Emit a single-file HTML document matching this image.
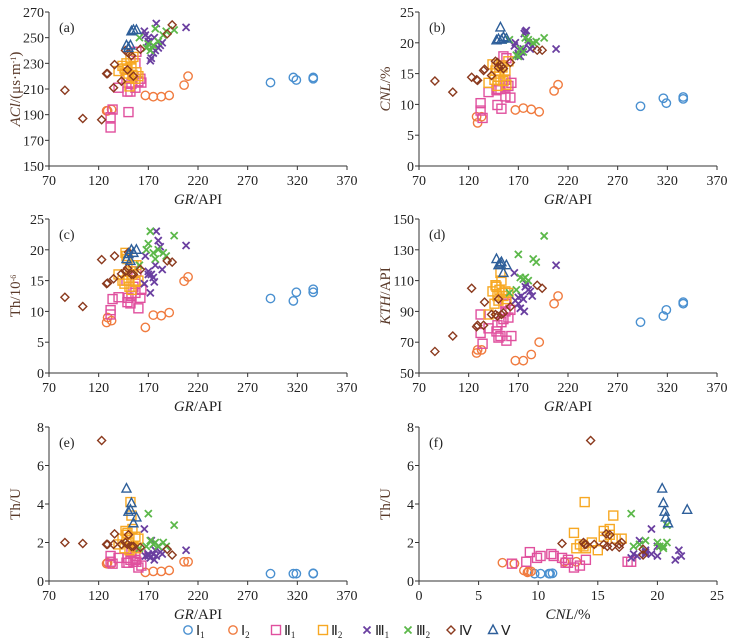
<!DOCTYPE html>
<html><head><meta charset="utf-8">
<style>
html,body{margin:0;padding:0;background:#fff;}
svg{display:block;font-family:"Liberation Serif",serif;}
</style></head>
<body>
<svg id="chart" width="731" height="641" viewBox="0 0 731 641"></svg>
<script>
// ---- data (per group, aligned samples) ----
const GR_I1=[293,316,319,336,336];
const AC_I1=[215,219,217,218,219];
const CNL_I1=[9.7,11,10.2,11.2,10.9];
const TH_I1=[12.1,11.7,13.1,13.6,13.1];
const KTH_I1=[83,87,91,96,95];
const THU_I1=[0.38,0.38,0.38,0.4,0.38];

const GR_I2=[128,129,133,167,175,183,191,206,210];
const AC_I2=[193,193,194,205,204,204,205,213,220];
const CNL_I2=[8,7,8,9.1,9.4,9.2,8.8,12.2,13.2];
const TH_I2=[8.2,9,8.5,7.4,9.4,9.3,9.8,14.9,15.6];
const KTH_I2=[63,65,65,58,58,62,70,95,100];
const THU_I2=[0.9,0.95,0.9,0.45,0.5,0.5,0.55,1,1];

const GR_II1=[132,132,134,140,148,149,150,152,153,155,157,158,160,162,163,157];
const AC_II1=[180,188,194,211,218,208,192,208,214,220,211,239,216,218,215,230];
const CNL_II1=[10.2,9,7.8,12,12.3,9.9,12.5,12.5,9.3,17.8,11.3,17.5,13,11.1,13.5,14];
const TH_II1=[9.5,10.2,12,12.3,15,11.5,12.2,11.3,12.5,14,13,16.5,10.5,12.2,13.5,14.5];
const KTH_II1=[88,76,69,79,77,81,73,74,83,85,95,71,86,91,74,90];
const THU_II1=[1.3,1,0.9,1.2,0.95,1.2,0.95,1.1,1.5,1.0,1.3,1.0,0.7,1.4,0.8,1.1];

const GR_II2=[140,144,146,147,148,149,150,151,152,153,154,155,157,158,160];
const AC_II2=[224,228,226,222,230,225,219,212,233,227,221,235,218,223,220];
const CNL_II2=[13.5,16.5,14,15.5,16,13,14.5,15,13.9,16.3,16,13.8,15.5,13.2,17];
const TH_II2=[16,15,14.5,19.5,19,18.5,15,14,16.5,13.5,16,17.5,14.8,17.5,15];
const KTH_II2=[88,103,95,107,106,100,97,104,115,110,102,100,103,98,102];
const THU_II2=[1.9,2.2,1.7,2.6,2.4,2.5,2.0,1.6,4.1,3.4,2.7,1.8,2.3,1.7,2.2];

const GR_III1=[166,167,170,172,173,175,176,177,178,180,182,184,208,170];
const AC_III1=[255,252,250,232,234,238,250,240,261,242,244,246,258,247];
const CNL_III1=[19.5,20,18,17.8,18.5,19,21.5,21.8,22,20,19,19.5,19,18.3];
const TH_III1=[14.5,19,16.5,13,16,15.5,14.8,17.5,23,21.5,20.5,16.8,20.7,16];
const KTH_III1=[115,97,99,92,100,98,90,106,108,104,103,100,120,95];
const THU_III1=[2.7,1.3,1.4,1.2,2.1,1.4,1.1,1.6,1.3,1.8,1.5,1.4,1.6,1.3];

const GR_III2=[161,168,170,172,175,177,180,185,188,196];
const AC_III2=[250,242,245,240,244,257,247,252,255,256];
const CNL_III2=[20.5,18,17.8,19,18.5,20.8,20.5,20,20.2,20.8];
const TH_III2=[17.5,20,21,23,19.5,18.5,20,19.5,19,22.3];
const KTH_III2=[102,104,127,112,111,112,110,124,122,139];
const THU_III2=[1.7,1.8,3.5,2.1,1.9,2.0,1.8,2.0,1.8,2.9];

const GR_IV=[86,104,123,128,129,135,136,143,147,149,150,153,155,162,189,194];
const AC_IV=[209,187,186,222,222,211,229,216,240,225,238,236,220,241,253,260];
const CNL_IV=[13.8,12,14.4,14,13.9,15.5,15.7,14.7,17,16.8,16,16.2,15.8,16.8,18.8,18.8];
const TH_IV=[12.3,10.8,18.4,14.5,14.6,15.3,19,16.1,16.5,17,19.6,16,16,16.8,18.2,18];
const KTH_IV=[64,74,105,80,81,81,96,88,88,87,98,88,89,93,107,105];
const THU_IV=[2,1.95,7.3,1.9,1.9,1.9,2.45,1.9,2.0,1.9,2.4,1.8,1.8,1.75,1.65,1.35];

const GR_V=[148,152,153,155,158,150];
const AC_V=[244,244,255,256,256,242];
const CNL_V=[20.4,22.5,20.5,20.9,20.7,20.6];
const TH_V=[18.5,18.2,20,19.5,20,19.3];
const KTH_V=[124,121,122,115,120,120];
const THU_V=[4.8,3.7,4.05,3.0,3.3,3.6];

const GR_TICKS=[70,120,170,220,270,320,370];
const CNL_TICKS=[0,5,10,15,20,25];
const AC_TICKS=[150,170,190,210,230,250,270];
const CNLY_TICKS=[0,5,10,15,20,25];
const TH_TICKS=[0,5,10,15,20,25];
const KTH_TICKS=[50,70,90,110,130,150];
const THU_TICKS=[0,2,4,6,8];

const GROUPS=[
 {id:'i1',color:'#4a90d0',shape:'circle',gr:GR_I1,ac:AC_I1,cnl:CNL_I1,th:TH_I1,kth:KTH_I1,thu:THU_I1},
 {id:'i2',color:'#f07b3f',shape:'circle',gr:GR_I2,ac:AC_I2,cnl:CNL_I2,th:TH_I2,kth:KTH_I2,thu:THU_I2},
 {id:'ii1',color:'#e0509e',shape:'square',gr:GR_II1,ac:AC_II1,cnl:CNL_II1,th:TH_II1,kth:KTH_II1,thu:THU_II1},
 {id:'ii2',color:'#f7a823',shape:'square',gr:GR_II2,ac:AC_II2,cnl:CNL_II2,th:TH_II2,kth:KTH_II2,thu:THU_II2},
 {id:'iii1',color:'#6a3fa0',shape:'x',gr:GR_III1,ac:AC_III1,cnl:CNL_III1,th:TH_III1,kth:KTH_III1,thu:THU_III1},
 {id:'iii2',color:'#5cb84a',shape:'x',gr:GR_III2,ac:AC_III2,cnl:CNL_III2,th:TH_III2,kth:KTH_III2,thu:THU_III2},
 {id:'iv',color:'#8b3a1e',shape:'diamond',gr:GR_IV,ac:AC_IV,cnl:CNL_IV,th:TH_IV,kth:KTH_IV,thu:THU_IV},
 {id:'v',color:'#2e5f9a',shape:'triangle',gr:GR_V,ac:AC_V,cnl:CNL_V,th:TH_V,kth:KTH_V,thu:THU_V}
];

const NS='http://www.w3.org/2000/svg';
const svg=document.getElementById('chart');
function mk(tag,attrs,parent){const e=document.createElementNS(NS,tag);for(const k in attrs)e.setAttribute(k,attrs[k]);(parent||svg).appendChild(e);return e;}

function marker(g,shape,color,cx,cy){
  let e;
  const st={fill:'none',stroke:color,'stroke-width':1.4};
  if(shape==='circle'){e=mk('circle',Object.assign({cx:cx,cy:cy,r:4.2},st),g);}
  else if(shape==='square'){e=mk('rect',Object.assign({x:cx-4.5,y:cy-4.5,width:9,height:9},st),g);}
  else if(shape==='diamond'){e=mk('path',Object.assign({d:`M${cx} ${cy-4}L${cx+4} ${cy}L${cx} ${cy+4}L${cx-4} ${cy}Z`},st),g);}
  else if(shape==='triangle'){e=mk('path',Object.assign({d:`M${cx} ${cy-5}L${cx+4.5} ${cy+3.5}L${cx-4.5} ${cy+3.5}Z`},st),g);}
  else {e=mk('path',Object.assign({d:`M${cx-3.5} ${cy-3.5}L${cx+3.5} ${cy+3.5}M${cx+3.5} ${cy-3.5}L${cx-3.5} ${cy+3.5}`},st,{'stroke-width':1.8}),g);}
  return e;
}

const PANELS=[
 {id:'a',x0:49,y0:12,xk:'gr',yk:'ac',xt:GR_TICKS,yt:AC_TICKS,xtitle:['GR','/API'],ytitle:'<tspan font-style="italic">ACl</tspan>/(μs·m<tspan baseline-shift="super" font-size="8">-1</tspan>)'},
 {id:'b',x0:419,y0:12,xk:'gr',yk:'cnl',xt:GR_TICKS,yt:CNLY_TICKS,xtitle:['GR','/API'],ytitle:'<tspan font-style="italic">CNL</tspan>/%'},
 {id:'c',x0:49,y0:219,xk:'gr',yk:'th',xt:GR_TICKS,yt:TH_TICKS,xtitle:['GR','/API'],ytitle:'Th/10<tspan baseline-shift="super" font-size="8">-6</tspan>'},
 {id:'d',x0:419,y0:219,xk:'gr',yk:'kth',xt:GR_TICKS,yt:KTH_TICKS,xtitle:['GR','/API'],ytitle:'<tspan font-style="italic">KTH</tspan>/API'},
 {id:'e',x0:49,y0:427,xk:'gr',yk:'thu',xt:GR_TICKS,yt:THU_TICKS,xtitle:['GR','/API'],ytitle:'Th/U'},
 {id:'f',x0:419,y0:427,xk:'cnl',yk:'thu',xt:CNL_TICKS,yt:THU_TICKS,xtitle:['CNL','/%'],ytitle:'Th/U'}
];
const W=298,H=154;

PANELS.forEach(p=>{
  const g=mk('g',{});
  
  
  const xmin=p.xt[0],xmax=p.xt[p.xt.length-1],ymin=p.yt[0],ymax=p.yt[p.yt.length-1];
  const sx=v=>p.x0+(v-xmin)/(xmax-xmin)*W;
  const sy=v=>p.y0+H-(v-ymin)/(ymax-ymin)*H;
  const ax=mk('path',{d:`M${p.x0} ${p.y0}V${p.y0+H}H${p.x0+W}`,fill:'none',stroke:'#333','stroke-width':1},g);
  
  
  p.xt.forEach(t=>{
    mk('line',{x1:sx(t),x2:sx(t),y1:p.y0+H,y2:p.y0+H+4,stroke:'#333'},g);
    const tx=mk('text',{x:sx(t),y:p.y0+H+19,'text-anchor':'middle','font-size':14,fill:'#222'},g);
    tx.textContent=t;
    
    
  });
  p.yt.forEach(t=>{
    mk('line',{x1:p.x0-4,x2:p.x0,y1:sy(t),y2:sy(t),stroke:'#333'},g);
    const tx=mk('text',{x:p.x0-5,y:sy(t)+5,'text-anchor':'end','font-size':14,fill:'#222'},g);
    tx.textContent=t;
    
    
  });
  const xt=mk('text',{x:p.x0+W/2,y:p.y0+H+38,'text-anchor':'middle','font-size':15,fill:'#222'},g);
  xt.innerHTML='<tspan font-style="italic">'+p.xtitle[0]+'</tspan>'+p.xtitle[1];
  
  
  const yt=mk('text',{x:0,y:0,'text-anchor':'middle','font-size':15,fill:'#5a3a2a',transform:`translate(${p.x0-29},${p.y0+H/2}) rotate(-90)`},g);
  yt.innerHTML=p.ytitle;
  
  
  const lb=mk('text',{x:p.x0+10,y:p.y0+20,'font-size':14,fill:'#222'},g);
  lb.textContent='('+p.id+')';
  
  
  GROUPS.forEach(gr=>{
    const xs=gr[p.xk],ys=gr[p.yk];
    for(let i=0;i<xs.length;i++){
      const m=marker(g,gr.shape,gr.color,sx(xs[i]),sy(ys[i]));
      
      
    }
  });
});

// legend
const LEG=[['i1','Ⅰ','1',188],['i2','Ⅰ','2',233],['ii1','Ⅱ','1',276],['ii2','Ⅱ','2',323],['iii1','Ⅲ','1',367],['iii2','Ⅲ','2',408],['iv','Ⅳ','',451],['v','Ⅴ','',493]];
const lg=mk('g',{});


LEG.forEach(l=>{
  const gr=GROUPS.find(g=>g.id===l[0]);
  const e=mk('g',{},lg);
  
  
  const m=marker(e,gr.shape,gr.color,l[3],630);
  
  
  const t=mk('text',{x:l[3]+8,y:635,'font-size':14,fill:'#222'},e);
  t.innerHTML=l[1]+(l[2]?'<tspan font-size="9" dy="3">'+l[2]+'</tspan>':'');
  
  
});
</script>
</body></html>
